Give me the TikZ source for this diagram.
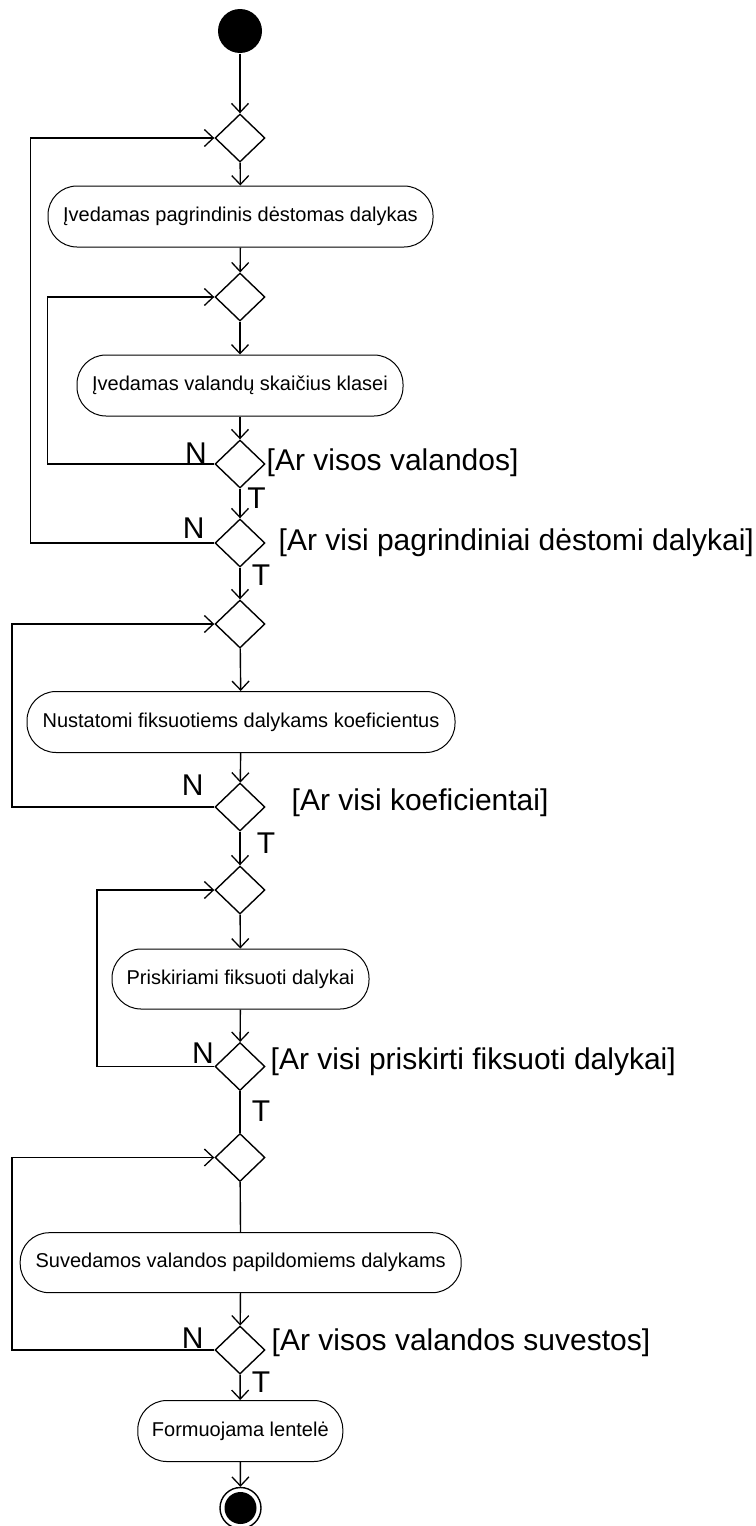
\documentclass[tikz,border=0pt]{standalone}
\usepackage{fontspec}
\setmainfont{Liberation Sans}
\usetikzlibrary{shapes.geometric,arrows.meta}
\begin{document}
\begin{tikzpicture}[x=1pt,y=-1pt,
  line width=1.4pt,
  arr/.style={-{Straight Barb[length=9pt,width=17pt,line width=1.3pt]}},
  dec/.style={draw,diamond,minimum width=50pt,minimum height=48pt,inner sep=0pt},
  act/.style={draw,line width=1pt,rectangle,rounded corners=29pt,minimum height=61pt,inner sep=0pt,font=\fontsize{20}{24}\selectfont},
  lbl/.style={inner sep=0pt,font=\fontsize{30}{34}\selectfont},
]
\useasboundingbox (0,0) rectangle (755,1526);
\node[circle,fill=black,minimum size=44pt,inner sep=0pt] (start) at (240,31) {};
\node[dec] (d1) at (240,138) {};
\node[act,minimum width=385pt] (a1) at (240.5,216.5) {Įvedamas pagrindinis dėstomas dalykas};
\node[dec] (d2) at (240,297) {};
\node[act,minimum width=326pt] (a2) at (240,385.5) {Įvedamas valandų skaičius klasei};
\node[dec] (d3) at (240,464) {};
\node[dec] (d4) at (240,543) {};
\node[dec] (d5) at (240,624) {};
\node[act,minimum width=428pt] (a3) at (241,722) {Nustatomi fiksuotiems dalykams koeficientus};
\node[dec] (d6) at (240,807) {};
\node[dec] (d7) at (240,890) {};
\node[act,minimum width=257pt,minimum height=60pt] (a4) at (240.5,979) {Priskiriami fiksuoti dalykai};
\node[dec] (d8) at (240,1066.5) {};
\node[dec] (d9) at (240,1157.5) {};
\node[act,minimum width=441pt,minimum height=60pt] (a5) at (240.7,1262.7) {Suvedamos valandos papildomiems dalykams};
\node[dec] (d10) at (240,1350) {};
\node[act,minimum width=205pt] (a6) at (240.3,1431) {Formuojama lentelė};
\node[circle,draw,line width=1.4pt,minimum size=41pt,inner sep=0pt] (end) at (240.5,1508) {};
\node[circle,fill=black,minimum size=32pt,inner sep=0pt] (endin) at (end.center) {};

\coordinate (L1) at (30.5,0);
\coordinate (L2) at (47.4,0);
\coordinate (L3) at (12,0);
\coordinate (L4) at (97,0);
\coordinate (L5) at (12,0);

\draw[arr] (start) -- (d1);
\draw[arr] (d1) -- (a1);
\draw[arr] (a1) -- (d2);
\draw[arr] (d2) -- (a2);
\draw[arr] (a2) -- (d3);
\draw[arr] (d3) -- (d4);
\draw[arr] (d4) -- (d5);
\draw[arr] (d5) -- (a3);
\draw[arr] (a3) -- (d6);
\draw[arr] (d6) -- (d7);
\draw[arr] (d7) -- (a4);
\draw[arr] (a4) -- (d8);
\draw (d8) -- (d9);
\draw (d9) -- (a5);
\draw[arr] (a5) -- (d10);
\draw[arr] (d10) -- (a6);
\draw[arr] (a6) -- (end);

\draw[arr] (d3.west) -- (d3.west -| L2) |- (d2.west);
\draw[arr] (d4.west) -- (d4.west -| L1) |- (d1.west);
\draw[arr] (d6.west) -- (d6.west -| L3) |- (d5.west);
\draw[arr] (d8.west) -- (d8.west -| L4) |- (d7.west);
\draw[arr] (d10.west) -- (d10.west -| L5) |- (d9.west);

\node[lbl] (n3) at (196,453) {N};
\node[lbl] (n4) at (193.6,528) {N};
\node[lbl] (n6) at (192.6,785) {N};
\node[lbl] (n8) at (203,1053) {N};
\node[lbl] (n10) at (192.6,1338) {N};
\node[lbl] (t3) at (256.5,498) {T};
\node[lbl] (t4) at (261,575) {T};
\node[lbl] (t6) at (266,843) {T};
\node[lbl] (t8) at (261,1111) {T};
\node[lbl] (t10) at (261,1382) {T};
\node[lbl,anchor=west] (g3) at (266,463) {[Ar visos valandos]};
\node[lbl,anchor=west] (g4) at (278,543) {[Ar visi pagrindiniai dėstomi dalykai]};
\node[lbl,anchor=west] (g6) at (291,803) {[Ar visi koeficientai]};
\node[lbl,anchor=west] (g8) at (270,1062) {[Ar visi priskirti fiksuoti dalykai]};
\node[lbl,anchor=west] (g10) at (271,1343) {[Ar visos valandos suvestos]};
\end{tikzpicture}
\end{document}
